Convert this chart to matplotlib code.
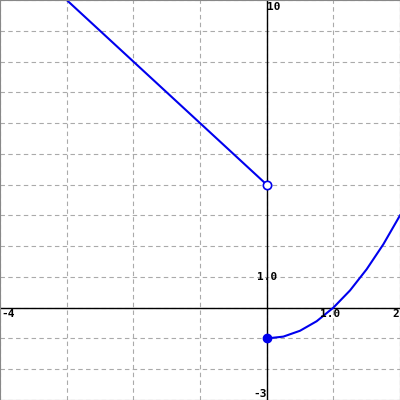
import matplotlib
matplotlib.use("Agg")
import matplotlib.pyplot as plt

# data
left_x = [-4, -3, 0]
left_y = [12, 10, 4]
right_x = [0, 0.25, 0.5, 0.75, 1.0, 1.25, 1.5, 1.75, 2.0]
right_y = [-1, -0.94, -0.75, -0.44, 0.0, 0.56, 1.25, 2.06, 3.0]
open_pt = (0, 4)
closed_pt = (0, -1)

BLUE = "#0000ee"

fig = plt.figure(figsize=(4, 4), dpi=100)
ax = fig.add_axes([0, 0, 1, 1])
ax.set_xlim(-4, 2); ax.set_ylim(-3, 10)

for x in range(-4, 3):
    ax.axvline(x, color="#aaaaaa", lw=0.8, ls=(0, (4, 3)), zorder=0)
for y in range(-3, 11):
    ax.axhline(y, color="#aaaaaa", lw=0.8, ls=(0, (4, 3)), zorder=0)
ax.axhline(0, color="black", lw=1, zorder=1)
ax.axvline(0, color="black", lw=1, zorder=1)

ax.plot(left_x, left_y, color=BLUE, lw=1.5, zorder=2)
ax.plot(right_x, right_y, color=BLUE, lw=1.5, zorder=2)
ax.plot(*open_pt, "o", ms=6, mfc="white", mec=BLUE, mew=1.2, zorder=3)
ax.plot(*closed_pt, "o", ms=6, mfc=BLUE, mec=BLUE, zorder=3)

kw = dict(fontsize=8, family="DejaVu Sans Mono", fontweight="bold", color="black")
ax.text(-3.98, -0.05, "-4", va="top", ha="left", **kw)
ax.text(0.95, -0.05, "1.0", va="top", ha="center", **kw)
ax.text(1.98, -0.05, "2", va="top", ha="right", **kw)
ax.text(0.0, 9.95, "10", va="top", ha="left", **kw)
ax.text(0.0, 1.0, "1.0", va="center", ha="center", **kw)
ax.text(-0.2, -2.98, "-3", va="bottom", ha="left", **kw)

ax.set_xticks([]); ax.set_yticks([])
for s in ax.spines.values():
    s.set_color("#888888")

fig.savefig("out.png", dpi=100)
